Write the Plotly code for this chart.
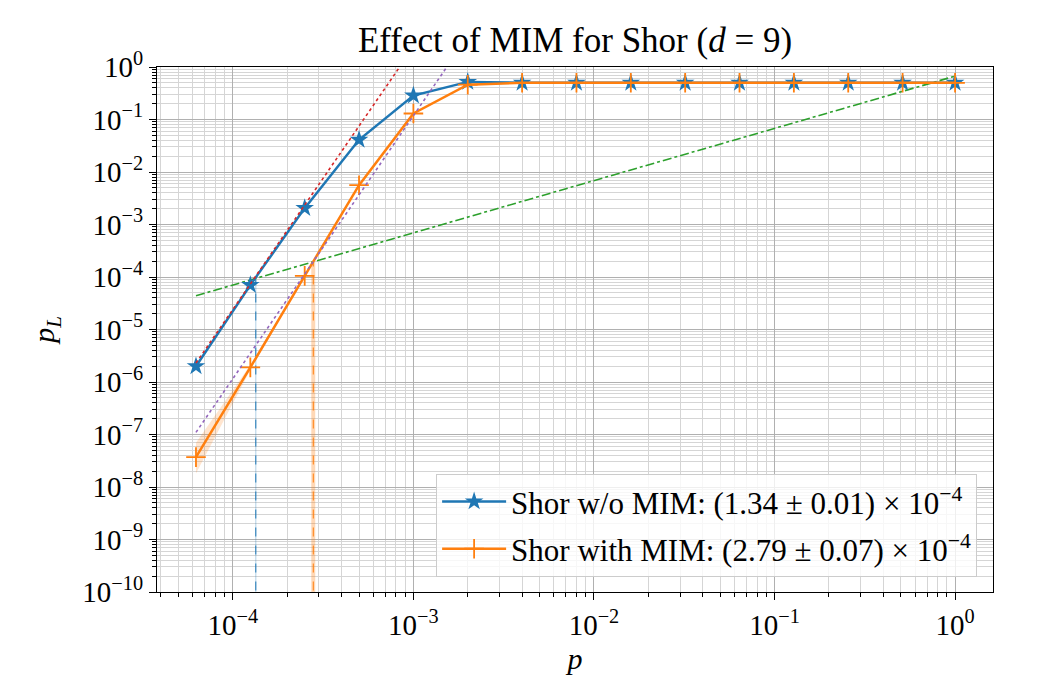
import plotly.graph_objects as go

# ---- data ----
p_vals = [6.25e-5, 1.25e-4, 2.5e-4, 5e-4, 1e-3, 2e-3, 4e-3, 8e-3, 0.016, 0.032, 0.064, 0.128, 0.256, 0.512, 1.0]
pl_without = [2.0e-6, 7.0e-5, 2.05e-3, 0.041, 0.285, 0.52, 0.5, 0.5, 0.5, 0.5, 0.5, 0.5, 0.5, 0.5, 0.5]
pl_with = [3.7e-8, 1.9e-6, 1.05e-4, 5.6e-3, 0.13, 0.46, 0.5, 0.5, 0.5, 0.5, 0.5, 0.5, 0.5, 0.5, 0.5]
pl_with_lo = [1.8e-8, 1.7e-6, 1.0e-4, 5.5e-3, 0.129, 0.46, 0.5, 0.5, 0.5, 0.5, 0.5, 0.5, 0.5, 0.5, 0.5]
pl_with_hi = [7.0e-8, 2.1e-6, 1.1e-4, 5.7e-3, 0.131, 0.46, 0.5, 0.5, 0.5, 0.5, 0.5, 0.5, 0.5, 0.5, 0.5]

fit_red_x = [6.25e-5, 1e-3]
fit_red_y = [2.3e-6, 2.4]
fit_purple_x = [6.25e-5, 2e-3]
fit_purple_y = [1.1e-7, 3.8]
ref_green_x = [6.25e-5, 1.0]
ref_green_y = [4.4e-5, 0.67]

thr_blue = 1.34e-4
thr_blue_err = 0.01e-4
thr_orange = 2.79e-4
thr_orange_err = 0.07e-4
thr_blue_top = 9.0e-5
thr_orange_top = 1.9e-4
y_bottom = 1e-11

labels = ["Shor w/o MIM: (1.34 ± 0.01) × 10<sup>−4</sup>",
          "Shor with MIM: (2.79 ± 0.07) × 10<sup>−4</sup>"]

x_major = [1e-4, 1e-3, 1e-2, 1e-1, 1.0]
x_major_text = ["10<sup>−4</sup>", "10<sup>−3</sup>", "10<sup>−2</sup>", "10<sup>−1</sup>", "10<sup>0</sup>"]
y_major = [10.0 ** (-k) for k in range(0, 11)]
y_major_text = ["10<sup>0</sup>"] + ["10<sup>−%d</sup>" % k for k in range(1, 11)]
x_minor = [m * 10.0 ** e for e in range(-5, 1) for m in range(2, 10)]
y_minor = [m * 10.0 ** e for e in range(-10, 0) for m in range(2, 10)]

BLUE = "#1f77b4"
ORANGE = "#ff7f0e"
FONT = "Liberation Serif"

fig = go.Figure()

# threshold bands / lines
fig.add_trace(go.Scatter(
    x=[thr_orange - thr_orange_err, thr_orange + thr_orange_err, thr_orange + thr_orange_err, thr_orange - thr_orange_err],
    y=[y_bottom, y_bottom, thr_orange_top, thr_orange_top], fill="toself", mode="none",
    fillcolor="rgba(255,127,14,0.3)", showlegend=False, hoverinfo="skip"))
fig.add_trace(go.Scatter(
    x=[thr_blue - thr_blue_err, thr_blue + thr_blue_err, thr_blue + thr_blue_err, thr_blue - thr_blue_err],
    y=[y_bottom, y_bottom, thr_blue_top, thr_blue_top], fill="toself", mode="none",
    fillcolor="rgba(31,119,180,0.3)", showlegend=False, hoverinfo="skip"))
fig.add_trace(go.Scatter(x=[thr_blue, thr_blue], y=[y_bottom, thr_blue_top], mode="lines",
                         line=dict(color=BLUE, width=1, dash="dash"), showlegend=False))
fig.add_trace(go.Scatter(x=[thr_orange, thr_orange], y=[y_bottom, thr_orange_top], mode="lines",
                         line=dict(color=ORANGE, width=1, dash="dash"), showlegend=False))

# orange error band
fig.add_trace(go.Scatter(x=p_vals + p_vals[::-1], y=pl_with_hi + pl_with_lo[::-1], fill="toself",
                         mode="none", fillcolor="rgba(255,127,14,0.2)", showlegend=False, hoverinfo="skip"))

# reference line
fig.add_trace(go.Scatter(x=ref_green_x, y=ref_green_y, mode="lines",
                         line=dict(color="#2ca02c", width=1.6, dash="dashdot"), showlegend=False))

# data
fig.add_trace(go.Scatter(x=p_vals, y=pl_without, mode="lines+markers", name=labels[0],
                         line=dict(color=BLUE, width=2.5),
                         marker=dict(symbol="star", size=14, color=BLUE, line=dict(width=0)),
                         legendgroup="a"))
fig.add_trace(go.Scatter(x=p_vals, y=pl_with, mode="lines+markers", name=labels[1],
                         line=dict(color=ORANGE, width=2.5),
                         marker=dict(symbol="cross-thin", size=14, color=ORANGE, line=dict(width=1.8, color=ORANGE)),
                         legendgroup="b"))

# fits
fig.add_trace(go.Scatter(x=fit_red_x, y=fit_red_y, mode="lines",
                         line=dict(color="#d62728", width=1.6, dash="dot"), showlegend=False))
fig.add_trace(go.Scatter(x=fit_purple_x, y=fit_purple_y, mode="lines",
                         line=dict(color="#9467bd", width=1.6, dash="dot"), showlegend=False))

axis_common = dict(
    type="log", showline=True, linecolor="black", linewidth=1.3, mirror=True,
    ticks="outside", ticklen=7, tickwidth=1.2, tickcolor="black",
    showgrid=True, gridcolor="#b0b0b0", gridwidth=1, zeroline=False,
    tickfont=dict(family=FONT, size=29, color="black"),
    tickmode="array",
)
fig.update_xaxes(**axis_common, range=[-4.42, 0.21], tickvals=x_major, ticktext=x_major_text,
                 minor=dict(tickmode="array", tickvals=x_minor, ticks="outside", ticklen=4,
                            tickcolor="black", tickwidth=1, showgrid=True, gridcolor="#d5d5d5", gridwidth=1),
                 title=dict(text="<i>p</i>", font=dict(family=FONT, size=30, color="black"), standoff=8))
fig.update_yaxes(**axis_common, range=[-10, 0], tickvals=y_major, ticktext=y_major_text,
                 minor=dict(tickmode="array", tickvals=y_minor, ticks="outside", ticklen=4,
                            tickcolor="black", tickwidth=1, showgrid=True, gridcolor="#d5d5d5", gridwidth=1),
                 title=dict(text="<i>p</i><sub><i>L</i></sub>", font=dict(family=FONT, size=30, color="black"), standoff=18))

fig.update_layout(
    width=1048, height=682,
    margin=dict(l=149, r=63, t=59, b=98),
    paper_bgcolor="white", plot_bgcolor="white",
    title=dict(text="Effect of MIM for Shor (<i>d</i> = 9)", x=0.5, xref="paper", xanchor="center",
               y=0.953, yanchor="middle",
               font=dict(family=FONT, size=35, color="black")),
    legend=dict(x=0.981, y=0.029, xanchor="right", yanchor="bottom",
                bgcolor="rgba(255,255,255,0.8)", bordercolor="#cccccc", borderwidth=1,
                font=dict(family=FONT, size=31, color="black"), tracegroupgap=4,
                itemwidth=64),
    showlegend=True,
)

fig.write_html("out.html")
